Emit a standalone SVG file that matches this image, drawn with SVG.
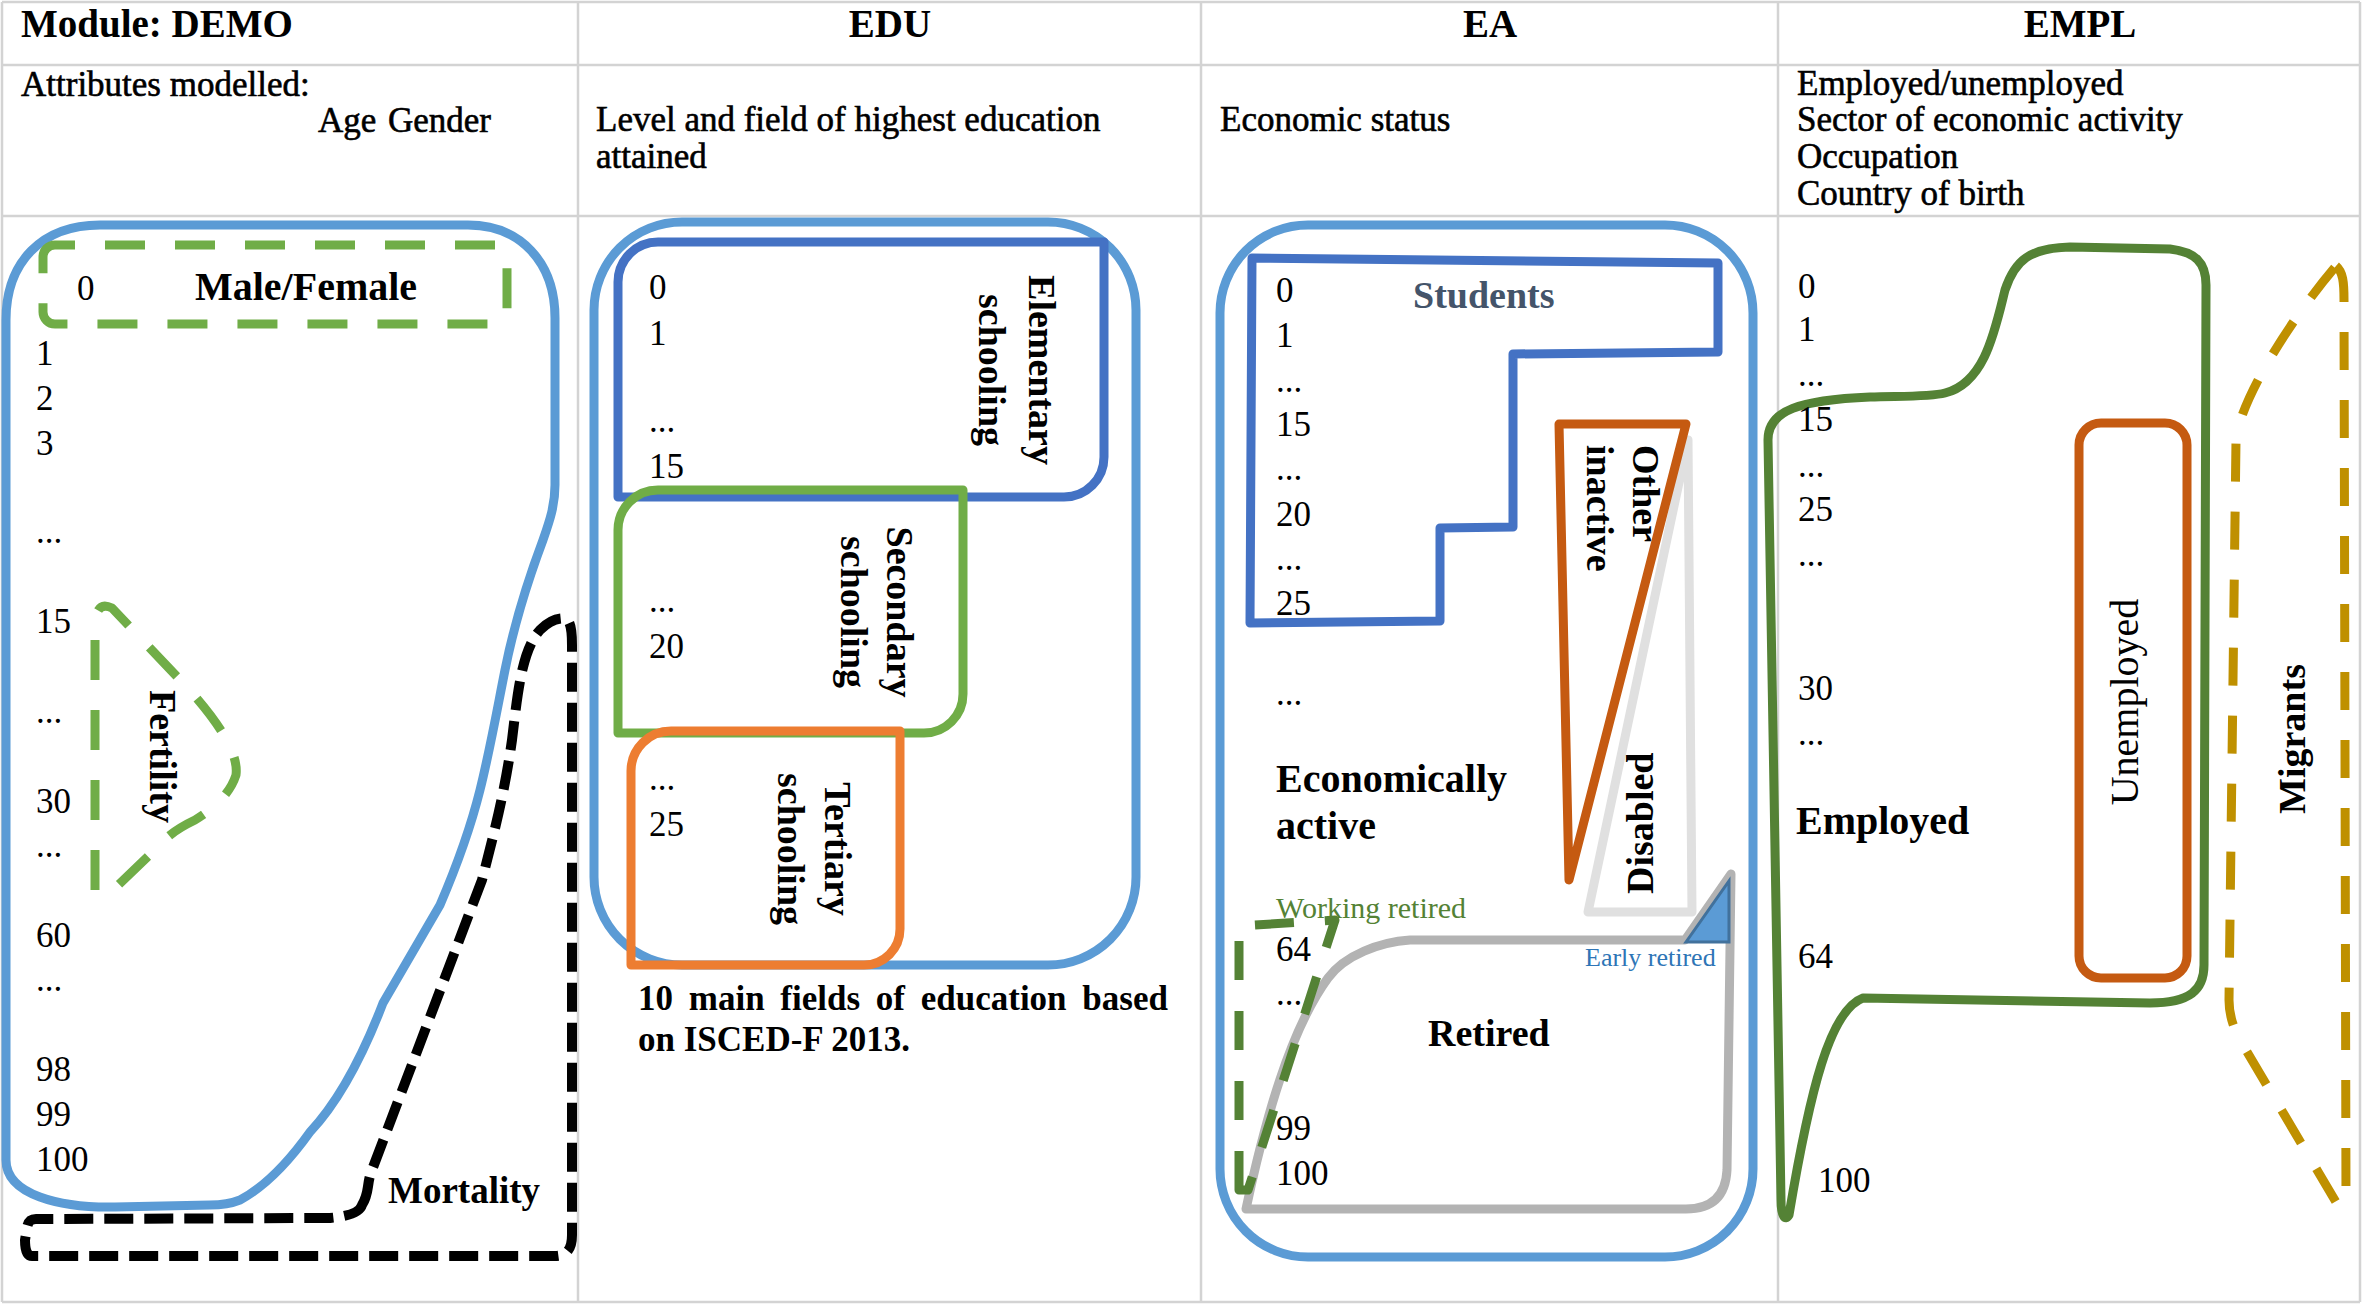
<svg xmlns="http://www.w3.org/2000/svg" width="2362" height="1313" viewBox="0 0 2362 1313">
<style>
text{font-family:"Liberation Serif","DejaVu Serif",serif;fill:#000}
.hd{font-size:39px;font-weight:bold}
.bd{font-size:35px;stroke:#000;stroke-width:0.6}
.num{font-size:35px}
.lb{font-size:38px;font-weight:bold}
.grid{stroke:#d3d3d3;stroke-width:2.5;fill:none}
.sh{fill:none;stroke-width:9;stroke-linejoin:round}
.blue{stroke:#5b9bd5}
.dblue{stroke:#4472c4}
.lgreen{stroke:#70ad47}
.orange{stroke:#ed7d31}
.dgreen{stroke:#548235}
.rust{stroke:#c55a11}
.gold{stroke:#bf9000}
</style>
<rect x="0" y="0" width="2362" height="1313" fill="#fff"/>
<g id="table">
<path class="grid" d="M2 2H2360M2 65H2360M2 216H2360M2 1302H2360M2 2V1302M578 2V1302M1201 2V1302M1778 2V1302M2360 2V1302"/>
<text class="hd" x="21" y="37">Module: DEMO</text>
<text class="hd" x="890" y="37" text-anchor="middle">EDU</text>
<text class="hd" x="1490" y="37" text-anchor="middle">EA</text>
<text class="hd" x="2080" y="37" text-anchor="middle">EMPL</text>
<text class="bd" x="21" y="96">Attributes modelled:</text>
<text class="bd" x="318" y="132">Age</text>
<text class="bd" x="388" y="132">Gender</text>
<text class="bd" x="596" y="131">Level and field of highest education</text>
<text class="bd" x="596" y="168">attained</text>
<text class="bd" x="1220" y="131">Economic status</text>
<text class="bd" x="1797" y="95">Employed/unemployed</text>
<text class="bd" x="1797" y="131">Sector of economic activity</text>
<text class="bd" x="1797" y="168">Occupation</text>
<text class="bd" x="1797" y="205">Country of birth</text>
</g>
<g id="demo-population">
<path class="sh blue" d="M6 320C6 262 42 225 100 225L468 225C520 225 555 262 555 318L555 485C555 505 550 520 543 540C528 580 515 620 505 670C497 710 490 750 480 790C470 830 455 870 440 905L383 1003C365 1050 340 1100 310 1132C290 1160 268 1185 240 1200C230 1204 220 1205 210 1205L115 1207C60 1208 6 1195 6 1160Z"/>
<g class="num">
<text x="36" y="365">1</text><text x="36" y="410">2</text><text x="36" y="455">3</text>
<text x="36" y="543">...</text><text x="36" y="633">15</text><text x="36" y="723">...</text>
<text x="36" y="813">30</text><text x="36" y="857">...</text><text x="36" y="947">60</text>
<text x="36" y="991">...</text><text x="36" y="1081">98</text><text x="36" y="1126">99</text>
<text x="36" y="1171">100</text>
</g>
</g>
<g id="demo-gender">
<rect class="sh lgreen" x="43" y="245" width="464" height="79" rx="12" stroke-width="10" stroke-dasharray="40 30" stroke-dashoffset="20" stroke-linejoin="miter"/>
<text class="num" x="77" y="300">0</text>
<text x="195" y="300" font-size="40" font-weight="bold">Male/Female</text>
</g>
<g id="demo-fertility">
<path class="sh lgreen" stroke-dasharray="40 30" d="M95 890L95 625Q96 600 112 608L185 685Q240 745 236 775Q228 800 195 820Q170 832 160 845L113 890Z"/>
<text class="lb" transform="translate(150 690) rotate(90)">Fertility</text>
</g>
<g id="demo-mortality">
<path fill="none" stroke="#000" stroke-width="10" stroke-dasharray="29 11" stroke-linejoin="round" d="M362 1205C370 1192 366 1185 372 1170L482 880C495 830 505 790 512 740C518 690 522 650 540 630C550 620 560 617 567 619C572 625 572 635 572 645L572 1235C572 1250 566 1256 555 1256L32 1256C27 1256 25 1250 25 1240L27 1228C28 1222 30 1219 36 1219L330 1218C350 1216 360 1212 362 1205Z"/>
<text x="388" y="1203" font-size="37" font-weight="bold">Mortality</text>
</g>
<g id="edu-population">
<rect class="sh blue" x="594" y="222" width="542" height="743" rx="88"/>
</g>
<g id="edu-elementary">
<path class="sh dblue" stroke-linejoin="miter" d="M618 497L618 282A40 40 0 0 1 658 242L1104 242L1104 457A40 40 0 0 1 1064 497Z"/>
<g class="num"><text x="649" y="299">0</text><text x="649" y="345">1</text><text x="649" y="432">...</text><text x="649" y="478">15</text></g>
<text class="lb" text-anchor="middle" transform="translate(1029 370) rotate(90)">Elementary</text>
<text class="lb" text-anchor="middle" transform="translate(979 370) rotate(90)">schooling</text>
</g>
<g id="edu-secondary">
<path class="sh lgreen" stroke-linejoin="miter" d="M618 733L618 530A40 40 0 0 1 658 490L963 490L963 694A39 39 0 0 1 924 733Z"/>
<g class="num"><text x="649" y="612">...</text><text x="649" y="658">20</text></g>
<text class="lb" text-anchor="middle" transform="translate(887 612) rotate(90)">Secondary</text>
<text class="lb" text-anchor="middle" transform="translate(841 612) rotate(90)">schooling</text>
</g>
<g id="edu-tertiary">
<path class="sh orange" stroke-linejoin="miter" d="M631 965L631 771A40 40 0 0 1 671 731L900 731L900 929A36 36 0 0 1 864 965Z"/>
<g class="num"><text x="649" y="790">...</text><text x="649" y="836">25</text></g>
<text class="lb" text-anchor="middle" transform="translate(825 849) rotate(90)">Tertiary</text>
<text class="lb" text-anchor="middle" transform="translate(778 849) rotate(90)">schooling</text>
</g>
<g id="edu-fields">
<text x="638" y="1010" font-size="35" font-weight="bold" word-spacing="7">10 main fields of education based</text>
<text x="638" y="1051" font-size="35" font-weight="bold">on ISCED-F 2013.</text>
</g>
<g id="ea-population">
<rect class="sh blue" x="1220" y="225" width="533" height="1032" rx="88"/>
<g class="num">
<text x="1276" y="705">...</text>
</g>
</g>
<g id="ea-students">
<path class="sh dblue" stroke-linejoin="miter" d="M1252 258L1718 263L1718 352L1513 354L1513 527L1440 528L1440 621L1250 623Z"/>
<text x="1413" y="308" font-size="38" font-weight="bold" style="fill:#44546a">Students</text>
<g class="num">
<text x="1276" y="302">0</text><text x="1276" y="347">1</text><text x="1276" y="392">...</text>
<text x="1276" y="436">15</text><text x="1276" y="480">...</text><text x="1276" y="526">20</text>
<text x="1276" y="570">...</text><text x="1276" y="615">25</text>
</g>
</g>
<g id="ea-disabled">
<path class="sh" stroke="#e0e0e0" stroke-linejoin="miter" d="M1688 440L1692 912L1588 912Z"/>
<text class="lb" transform="translate(1653 894) rotate(-90)" font-size="39">Disabled</text>
</g>
<g id="ea-other-inactive">
<path class="sh rust" stroke-linejoin="miter" d="M1559 424L1686 424L1569 880Z"/>
<text class="lb" transform="translate(1633 445) rotate(90)">Other</text>
<text class="lb" transform="translate(1587 445) rotate(90)">inactive</text>
</g>
<g id="ea-active">
<text x="1276" y="792" font-size="40" font-weight="bold">Economically</text>
<text x="1276" y="839" font-size="40" font-weight="bold">active</text>
</g>
<g id="ea-retired">
<path class="sh" stroke="#b3b3b3" d="M1246 1209C1265 1120 1290 1030 1328 978C1345 955 1380 942 1410 940L1685 940L1731 874L1727 1170Q1725 1209 1686 1209Z"/>
<text x="1428" y="1046" font-size="38" font-weight="bold">Retired</text>
<g class="num">
<text x="1276" y="961">64</text><text x="1276" y="1005">...</text>
<text x="1276" y="1140">99</text><text x="1276" y="1185">100</text>
</g>
</g>
<g id="ea-early-retired">
<path d="M1686 942L1729 881L1729 942Z" fill="#5b9bd5" stroke="#41719c" stroke-width="3"/>
<text x="1585" y="966" font-size="26" style="fill:#2e75b6">Early retired</text>
</g>
<g id="ea-working-retired">
<path class="sh dgreen" stroke-linejoin="miter" stroke-dasharray="39 31" d="M1239 1190L1239 926L1335 920L1248 1190Z"/>
<text x="1276" y="918" font-size="30" style="fill:#548235">Working retired</text>
</g>
<g id="empl-employed">
<path class="sh dgreen" stroke-width="9.5" d="M1768 440C1768 410 1800 400 1870 397C1900 396 1930 397 1945 393C1985 383 1995 330 2005 290C2015 260 2030 248 2070 247L2170 249C2195 252 2206 262 2206 285L2204 965C2204 990 2190 1003 2150 1003L1863 998C1830 1010 1810 1090 1789 1215C1785 1222 1781 1215 1781 1200L1768 440Z"/>
<text x="1796" y="834" font-size="40" font-weight="bold">Employed</text>
<g class="num">
<text x="1798" y="298">0</text><text x="1798" y="341">1</text><text x="1798" y="386">...</text>
<text x="1798" y="431">15</text><text x="1798" y="477">...</text><text x="1798" y="521">25</text>
<text x="1798" y="566">...</text><text x="1798" y="700">30</text><text x="1798" y="745">...</text>
<text x="1798" y="968">64</text><text x="1818" y="1192">100</text>
</g>
</g>
<g id="empl-unemployed">
<rect class="sh rust" x="2079" y="423" width="108" height="555" rx="22"/>
<text transform="translate(2138 702) rotate(-90)" text-anchor="middle" font-size="40">Unemployed</text>
</g>
<g id="empl-migrants">
<path class="sh gold" stroke-dasharray="38 30" d="M2336 266C2343 272 2344 282 2344 300L2346 1205L2336 1202L2240 1040Q2229 1020 2229 1000L2236 440C2240 400 2290 320 2336 266Z"/>
<text class="lb" transform="translate(2305 739) rotate(-90)" text-anchor="middle">Migrants</text>
</g>
<g id="connectors"></g>
</svg>
